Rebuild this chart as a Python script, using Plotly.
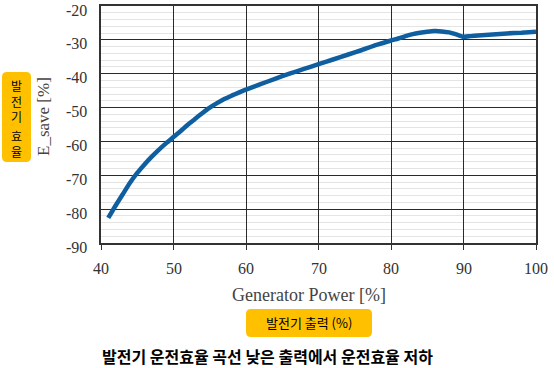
import plotly.graph_objects as go

# Data
power = [41, 42, 43, 44, 45, 46, 47, 48, 49, 50, 51, 52, 53, 54, 55, 56, 57, 58, 59, 60,
         62, 64, 66, 68, 70, 72, 74, 76, 78, 80, 81, 82, 83, 84, 85, 86, 87, 88, 89, 90,
         91, 92, 94, 96, 98, 100]
e_save = [-82.6, -79.0, -75.6, -72.2, -69.3, -66.8, -64.5, -62.4, -60.5, -58.7, -56.9, -55.0,
          -53.3, -51.6, -50.0, -48.7, -47.5, -46.5, -45.6, -44.7,
          -43.1, -41.5, -40.0, -38.6, -37.2, -35.8, -34.4, -33.0, -31.5, -30.2, -29.6, -28.9,
          -28.3, -27.9, -27.6, -27.4, -27.5, -27.8, -28.4, -29.1,
          -28.9, -28.7, -28.4, -28.1, -27.9, -27.6]
x_ticks = [40, 50, 60, 70, 80, 90, 100]
x_labels = ["40", "50", "60", "70", "80", "90", "100"]
y_ticks = [-90, -80, -70, -60, -50, -40, -30, -20]
y_labels = ["-90", "-80", "-70", "-60", "-50", "-40", "-30", "-20"]

W, H = 554, 368
L, R, T, B = 101, 536, 6, 243
PW, PH = R - L, B - T

def px(x):
    return (x - L) / PW

def py(y):
    return (B - y) / PH

def rounded(x0, y0, x1, y1, r):
    X0, X1 = px(x0), px(x1)
    Yt, Yb = py(y0), py(y1)
    rx, ry = r / PW, r / PH
    return (f"M {X0+rx},{Yt} L {X1-rx},{Yt} Q {X1},{Yt} {X1},{Yt-ry} "
            f"L {X1},{Yb+ry} Q {X1},{Yb} {X1-rx},{Yb} L {X0+rx},{Yb} "
            f"Q {X0},{Yb} {X0},{Yb+ry} L {X0},{Yt-ry} Q {X0},{Yt} {X0+rx},{Yt} Z")

fig = go.Figure()
fig.add_trace(go.Scatter(x=power, y=e_save, mode="lines",
                         line=dict(color="#0f5fa0", width=4.5, shape="spline", smoothing=0.5),
                         showlegend=False, hoverinfo="skip"))

serif = "Liberation Serif, Times New Roman, serif"
kr = "Noto Sans CJK KR"
gold = "#FFC000"
tickfont = dict(family=serif, size=16, color="#333")

def ann(text, x, y, font, **kw):
    return dict(text=text, x=px(x), y=py(y), xref="paper", yref="paper", showarrow=False,
                xanchor="center", yanchor="middle", font=font, **kw)

annotations = [
    ann("Generator Power [%]", 309, 295, dict(family=serif, size=18, color="#444")),
    ann("E_save [%]", 43, 117, dict(family=serif, size=17, color="#444"), textangle=-90),
    ann("발<br>전<br>기", 16.5, 101.5, dict(family=kr, size=12, color="black")),
    ann("효<br>율", 16.5, 143.5, dict(family=kr, size=12, color="black")),
    ann("발전기 출력 (%)", 309, 323, dict(family=kr, size=13, color="black")),
    ann("<b>발전기 운전효율 곡선 낮은 출력에서 운전효율 저하</b>", 267.5, 356,
        dict(family=kr, size=16, color="black")),
]
# y tick labels (sit a few px below their gridlines, as in the reference)
for v, t in zip(y_ticks, y_labels):
    annotations.append(dict(text=t, x=0, y=v, xref="paper", yref="y", showarrow=False,
                            xanchor="right", yanchor="middle", xshift=-12, yshift=-4,
                            font=tickfont))
# x tick labels
for v, t in zip(x_ticks, x_labels):
    annotations.append(dict(text=t, x=v, y=0, xref="x", yref="paper", showarrow=False,
                            xanchor="center", yanchor="middle", yshift=-25,
                            font=tickfont))

fig.update_layout(
    width=W, height=H,
    margin=dict(l=L, r=W - R, t=T, b=H - B, autoexpand=False),
    paper_bgcolor="white", plot_bgcolor="white",
    xaxis=dict(range=[40, 100], tickvals=x_ticks, showticklabels=False, ticks="outside",
               ticklen=5, tickcolor="#333", tickwidth=1, showgrid=True, gridcolor="#2a2a2a",
               gridwidth=1.2, showline=True, linecolor="#333", linewidth=1.5,
               mirror=True, zeroline=False),
    yaxis=dict(range=[-90, -20], tickvals=y_ticks, showticklabels=False, showgrid=True,
               gridcolor="#2a2a2a", gridwidth=1.2, showline=True, linecolor="#333",
               linewidth=1.5, mirror=True, zeroline=False, ticks="",
               minor=dict(tickmode="linear", tick0=-90, dtick=2, showgrid=True,
                          gridcolor="#e4e4e4", gridwidth=1)),
    shapes=[
        dict(type="path", xref="paper", yref="paper", path=rounded(2, 72, 31, 162, 5),
             fillcolor=gold, line=dict(width=0), layer="above"),
        dict(type="path", xref="paper", yref="paper", path=rounded(246, 309, 372, 337, 5),
             fillcolor=gold, line=dict(width=0), layer="above"),
    ],
    annotations=annotations,
)

fig.write_html("out.html")
